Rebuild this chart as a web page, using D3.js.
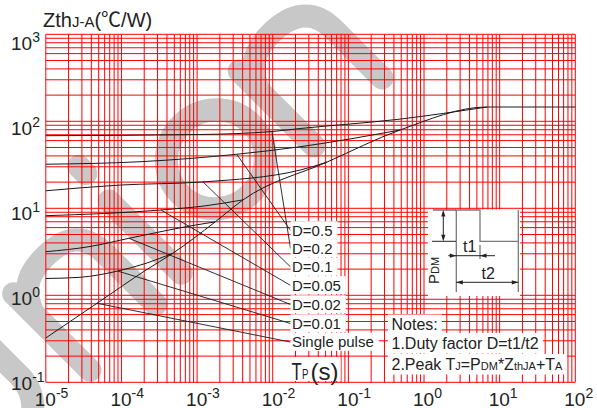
<!DOCTYPE html>
<html>
<head>
<meta charset="utf-8">
<script src="https://cdn.jsdelivr.net/npm/d3@7"></script>
<style>
  html, body { margin: 0; padding: 0; background: #fff; }
  svg { display: block; font-family: "Liberation Sans", Arial, Helvetica, sans-serif; }
</style>
</head>
<body>
<svg id="chart" width="597" height="408"></svg>
<script>
// Transient thermal impedance Zth(J-A) [°C/W] versus pulse width Tp [s]
// Each series: [pulse width (s), Zth (°C/W)]
const duty05 = [[1e-5, 68.3], [1.09e-3, 70.5], [9.77e-3, 76.3], [0.023, 82.6], [0.482, 106], [6.81, 146]];
const duty02 = [[1e-5, 32.1], [1.76e-4, 34.3], [3.34e-3, 41.8], [0.023, 51.0], [0.482, 79.4]];
const duty01 = [[1e-5, 15.9], [9.57e-5, 18.5], [1.20e-3, 20.1], [0.023, 27.5], [0.0523, 34.0]];
const duty005 = [[1e-5, 8.22], [3.33e-4, 9.56], [1.31e-3, 10.7], [4.05e-3, 12.5]];
const duty002 = [[1e-5, 3.17], [3.72e-5, 3.62], [1.26e-4, 4.52], [1.31e-3, 6.72], [1.73e-3, 6.96]];
const duty001 = [[1e-5, 1.56], [2.83e-5, 1.61], [8.92e-5, 1.90], [2.11e-4, 2.33], [4.77e-4, 3.04]];
const singlePulse = [[1e-5, 0.323], [5.09e-5, 0.843], [2.11e-4, 1.95], [4.77e-4, 3.04], [1.73e-3, 6.96],
                     [4.05e-3, 12.5], [0.0523, 34.0], [0.482, 79.4], [6.81, 146], [100, 146]];

// Curve labels, their anchor in data space and the curve point each leader starts from
const curveLabels = ["D=0.5", "D=0.2", "D=0.1", "D=0.05", "D=0.02", "D=0.01", "Single pulse"];
const labelT = 0.0172;
const labelZ = [5.56, 3.45, 2.12, 1.30, 0.783, 0.474, 0.290];
const leaderFrom = [[3.34e-3, 41.8], [9.77e-3, 76.3], [1.20e-3, 20.1], [3.33e-4, 9.56],
                    [1.26e-4, 4.52], [8.92e-5, 1.90], [4.75e-5, 0.81]];

// Axis tick exponents (labels 10^n)
const xExponents = [-5, -4, -3, -2, -1, 0, 1, 2];
const yExponents = [-1, 0, 1, 2, 3];

const svg = d3.select("#chart");
const plot = { left: 45.8, right: 575.3, top: 34.3, bottom: 382.3 };
const x = d3.scaleLog().domain([1e-5, 1e2]).range([plot.left, plot.right]);
const y = d3.scaleLog().domain([0.1, 1e3]).range([plot.bottom, plot.top]);
const yLabel = d3.scaleLog().domain([0.1, 1e3]).range([390, 50]);
const ink = "#222";

// ---- background watermark lettering ----
const wm = svg.append("g")
  .attr("transform", "translate(230,230) rotate(-45)")
  .attr("fill", "none").attr("stroke", "#c8c8c8")
  .attr("stroke-width", 23).attr("stroke-linecap", "round");
wm.append("path").attr("d", "M-345,-165 V-46 A46.5,46.5 0 0 0 -252,-46 V-165");
wm.append("path").attr("d", "M-198,0 V-108 M-198,-80 C-188,-108 -170,-112 -150,-112 C-121,-112 -105,-100 -105,-72 V0");
wm.append("path").attr("d", "M-65,-4 V-106");
wm.append("path").attr("d", "M-62,-152 V-142");
wm.append("ellipse").attr("cx", 40).attr("cy", -60).attr("rx", 50).attr("ry", 49);
wm.append("path").attr("d", "M119,0 V-106 M119,-78 C129,-104 147,-110 167,-110 C196,-110 215,-98 215,-70 V0");

// ---- grid ----
const grid = svg.append("g").attr("stroke", "#ff0000").attr("stroke-width", 1);
grid.selectAll("line.v").data(x.ticks()).join("line")
  .attr("x1", d => x(d)).attr("x2", d => x(d))
  .attr("y1", plot.top).attr("y2", plot.bottom);
grid.selectAll("line.h").data(y.ticks()).join("line")
  .attr("y1", d => y(d)).attr("y2", d => y(d))
  .attr("x1", plot.left).attr("x2", plot.right);

// ---- curves ----
const line = d3.line().x(d => x(d[0])).y(d => y(d[1])).curve(d3.curveMonotoneX);
const series = [duty05, duty02, duty01, duty005, duty002, duty001, singlePulse];
svg.append("g").attr("fill", "none").attr("stroke", "#1a1a1a").attr("stroke-width", 1)
  .selectAll("path").data(series).join("path").attr("d", line);

// ---- leaders ----
svg.append("g").attr("stroke", "#1a1a1a").attr("stroke-width", 0.9)
  .selectAll("line").data(leaderFrom).join("line")
  .attr("x1", d => x(d[0])).attr("y1", d => y(d[1]))
  .attr("x2", x(labelT)).attr("y2", (d, i) => y(labelZ[i]));

// helper: white backing behind a text element
function backWith(layer, textSel, pad) {
  textSel.each(function () {
    const b = this.getBBox();
    layer.append("rect")
      .attr("x", b.x - pad[3]).attr("y", b.y - pad[0])
      .attr("width", b.width + pad[1] + pad[3]).attr("height", b.height + pad[0] + pad[2])
      .attr("fill", "#fff");
  });
}

const backs = svg.append("g");
const texts = svg.append("g").attr("fill", ink);

// ---- curve labels ----
const lbl = texts.selectAll("text.lbl").data(curveLabels).join("text")
  .attr("x", x(labelT) + 1.5).attr("y", (d, i) => y(labelZ[i]))
  .attr("dy", "0.35em").attr("font-size", 15).text(d => d);
backWith(backs, lbl, [0.5, 5, 0.5, 1.5]);

// ---- axis title (x) ----
const tp = texts.append("g").attr("transform", `translate(${x(0.0172) + 1},380)`);
tp.append("text").attr("font-size", 24).attr("transform", "scale(0.7,1)").text("T");
tp.append("text").attr("font-size", 15).attr("transform", "translate(10.5,-1) scale(0.65,1)").text("P");
tp.append("text").attr("x", 19).attr("font-size", 24).text("(s)");
backs.append("rect").attr("x", x(0.0172) - 2).attr("y", 357).attr("width", 52).attr("height", 24).attr("fill", "#fff");

// ---- axis title (y) ----
const yt = texts.append("text").attr("x", 43).attr("y", 27);
yt.append("tspan").attr("font-size", 20).text("Zth");
yt.append("tspan").attr("font-size", 15).text("J-A");
yt.append("tspan").attr("font-size", 20).text("(");
yt.append("tspan").attr("font-size", 20).attr("font-family", "'Noto Sans CJK SC', 'Noto Sans CJK JP', sans-serif").text("℃");
yt.append("tspan").attr("font-size", 20).text("/W)");

// ---- tick labels ----
xExponents.forEach(e => {
  const t = texts.append("text").attr("x", x(Math.pow(10, e)) - 11).attr("y", 405.5);
  t.append("tspan").attr("font-size", 19).text("10");
  t.append("tspan").attr("font-size", 14).attr("dy", -8).text(String(e));
});
yExponents.forEach(e => {
  const t = texts.append("text").attr("x", 11).attr("y", yLabel(Math.pow(10, e)));
  t.append("tspan").attr("font-size", 19).text("10");
  t.append("tspan").attr("font-size", 14).attr("dy", -8).text(String(e));
});

// ---- notes ----
const notes = texts.append("g").attr("font-size", 16);
const n1 = notes.append("text").attr("x", 391.5).attr("y", 330).text("Notes:");
const n2 = notes.append("text").attr("x", 391.5).attr("y", 348.5).text("1.Duty factor D=t1/t2");
const n3 = notes.append("text").attr("x", 391.5).attr("y", 369.5);
[["2.Peak T", 16], ["J", 11], ["=P", 16], ["DM", 11], ["*Z", 16], ["thJA", 11], ["+T", 16], ["A", 11]]
  .forEach(([s, f]) => n3.append("tspan").attr("font-size", f).text(s));
backWith(backs, n1, [1.5, 4, 2, 3.5]);
backWith(backs, n2, [1.5, 4, 2, 3.5]);
backWith(backs, n3, [1.5, 4, 2, 3.5]);

// ---- pulse sketch: t1 on-time inside period t2, amplitude PDM ----
backs.append("rect").attr("x", 428).attr("y", 209.5).attr("width", 92).attr("height", 86.5).attr("fill", "#fff");
const sk = svg.append("g");
const wave = sk.append("g").attr("fill", "none").attr("stroke", "#7a7a7a").attr("stroke-width", 1.3);
wave.append("path").attr("d", "M456.3,292 V210 H480 V241.3 H518.3 V210 M518.3,241.3 V292 M480,245 V259");
const dim = sk.append("g").attr("stroke", "#222").attr("stroke-width", 1).attr("fill", "none");
dim.append("path").attr("d",
  "M433,210 H456 M432,241.3 H456 M443.3,212 V239.3 M448.3,255.7 H495 M456,282.3 H518.3");
const heads = sk.append("g").attr("fill", "#222");
[
  "M443.3,210 L441.2,216.5 L445.4,216.5 Z",
  "M443.3,241.3 L441.2,234.8 L445.4,234.8 Z",
  "M456.3,255.7 L449.8,253.6 L449.8,257.8 Z",
  "M480,255.7 L486.5,253.6 L486.5,257.8 Z",
  "M456.3,282.3 L462.8,280.2 L462.8,284.4 Z",
  "M518.3,282.3 L511.8,280.2 L511.8,284.4 Z"
].forEach(d => heads.append("path").attr("d", d));
const skText = sk.append("g").attr("fill", ink);
skText.append("text").attr("x", 463).attr("y", 252).attr("font-size", 16).text("t1");
skText.append("text").attr("x", 481.5).attr("y", 278.5).attr("font-size", 16).text("t2");
const pdm = skText.append("text").attr("transform", "translate(438.5,284) rotate(-90)");
pdm.append("tspan").attr("font-size", 15).text("P");
pdm.append("tspan").attr("font-size", 11).text("DM");
</script>
</body>
</html>
